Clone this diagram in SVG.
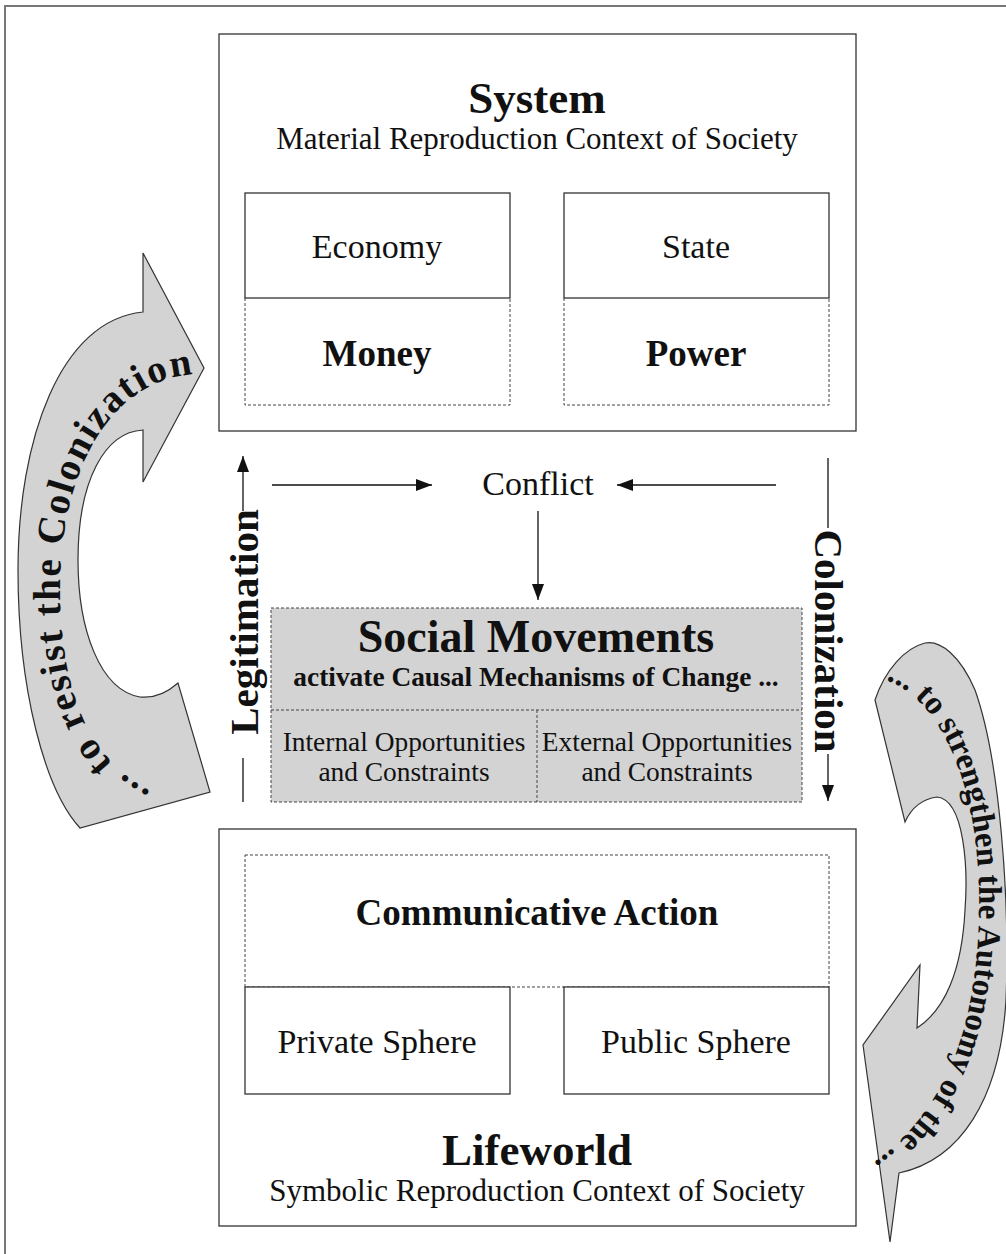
<svg xmlns="http://www.w3.org/2000/svg" width="1006" height="1254" viewBox="0 0 1006 1254">
<defs>
<style>
.box{fill:#fff;stroke:#333;stroke-width:1.3}
.dash{fill:none;stroke:#444;stroke-width:1;stroke-dasharray:3 2}
.line{fill:none;stroke:#111;stroke-width:1.3}
.curv{fill:#d3d3d3;stroke:#333;stroke-width:1.2}
.t{font-family:"Liberation Serif","Times New Roman",serif;fill:#111}
.b{font-weight:bold}
.m{text-anchor:middle}
</style>
<marker id="ah" viewBox="0 0 16 12" refX="16" refY="6" markerWidth="16" markerHeight="12" markerUnits="userSpaceOnUse" orient="auto">
<path d="M0,0 L16,6 L0,12 z" fill="#111"/>
</marker>
<path id="pl" d="M172,800 C95,775 60,700 60,590 C60,470 110,380 195,374"/>
<path id="pr" d="M886,680 C943,700 979,790 979,900 C979,1020 950,1115 860,1172"/>
</defs>
<rect x="5" y="6" width="1020" height="1270" fill="none" stroke="#777" stroke-width="2"/>

<g id="curved-left">
<path class="curv" d="M143,312 L143,253 L204,368 L143,482 L143,430 C105,432 78,480 78,560 C78,630 100,690 140,697 Q160,699 178,683 L210,792 L80,828 C45,790 18,690 18,570 C18,440 60,320 143,312 Z"/>
<text class="t b" font-size="39" letter-spacing="2"><textPath href="#pl" startOffset="100%" text-anchor="end">... to resist the Colonization</textPath></text>
</g>

<g id="curved-right">
<path class="curv" d="M875,700 L905,822 Q915,800 937,797 C965,800 968,870 965,910 C962,970 945,1010 917,1028 L920,965 L863,1045 L890,1242 L899,1173 C960,1160 1000,1100 1006,1000 C1010,900 1000,760 975,690 C960,655 940,640 925,643 C905,648 885,670 875,700 Z"/>
<text class="t b" font-size="33"><textPath href="#pr" startOffset="0">... to strengthen the Autonomy of the ...</textPath></text>
</g>

<g id="system">
<rect class="box" x="219" y="34" width="637" height="397"/>
<text class="t b m" x="537" y="113" font-size="45">System</text>
<text class="t m" x="537" y="149" font-size="31">Material Reproduction Context of Society</text>
</g>
<g id="economy">
<rect class="box" x="245" y="193" width="265" height="105"/>
<text class="t m" x="377" y="258" font-size="34">Economy</text>
</g>
<g id="money">
<path class="dash" d="M245,298 V405 H510 V298"/>
<text class="t b m" x="377" y="366" font-size="37">Money</text>
</g>
<g id="state">
<rect class="box" x="564" y="193" width="265" height="105"/>
<text class="t m" x="696" y="258" font-size="34">State</text>
</g>
<g id="power">
<path class="dash" d="M564,298 V405 H829 V298"/>
<text class="t b m" x="696" y="366" font-size="37">Power</text>
</g>

<g id="conflict">
<text class="t m" x="538" y="495" font-size="34">Conflict</text>
</g>

<g id="social-movements">
<rect x="271" y="608" width="531" height="194" fill="#d3d3d3"/>
<rect class="dash" x="271" y="608" width="531" height="194"/>
<line class="dash" x1="271" y1="710" x2="802" y2="710"/>
<line class="dash" x1="537" y1="710" x2="537" y2="802"/>
<text class="t b m" x="536" y="652" font-size="46">Social Movements</text>
<text class="t b m" x="536" y="686" font-size="27.4">activate Causal Mechanisms of Change ...</text>
<text class="t m" x="404" y="751" font-size="27.4">Internal Opportunities</text>
<text class="t m" x="404" y="781" font-size="27.4">and Constraints</text>
<text class="t m" x="667" y="751" font-size="27.4">External Opportunities</text>
<text class="t m" x="667" y="781" font-size="27.4">and Constraints</text>
</g>

<g id="lifeworld">
<rect class="box" x="219" y="829" width="637" height="397"/>
<text class="t b m" x="537" y="1165" font-size="45">Lifeworld</text>
<text class="t m" x="537" y="1201" font-size="31">Symbolic Reproduction Context of Society</text>
</g>
<g id="communicative-action">
<rect class="dash" x="245" y="855" width="584" height="132"/>
<text class="t b m" x="537" y="925" font-size="37">Communicative Action</text>
</g>
<g id="private-sphere">
<rect class="box" x="245" y="987" width="265" height="107"/>
<text class="t m" x="377" y="1053" font-size="34">Private Sphere</text>
</g>
<g id="public-sphere">
<rect class="box" x="564" y="987" width="265" height="107"/>
<text class="t m" x="696" y="1053" font-size="34">Public Sphere</text>
</g>

<g id="connectors">
<line class="line" x1="272" y1="485" x2="432" y2="485" marker-end="url(#ah)"/>
<line class="line" x1="776" y1="485" x2="617" y2="485" marker-end="url(#ah)"/>
<line class="line" x1="538" y1="511" x2="538" y2="600" marker-end="url(#ah)"/>
<line class="line" x1="243" y1="802" x2="243" y2="758"/>
<line class="line" x1="243" y1="511" x2="243" y2="456" marker-end="url(#ah)"/>
<text class="t b m" font-size="41" transform="translate(258,622) rotate(-90)">Legitimation</text>
<line class="line" x1="828" y1="458" x2="828" y2="528"/>
<line class="line" x1="828" y1="754" x2="828" y2="801" marker-end="url(#ah)"/>
<text class="t b m" font-size="41" transform="translate(815,641) rotate(90)">Colonization</text>
</g>
</svg>
